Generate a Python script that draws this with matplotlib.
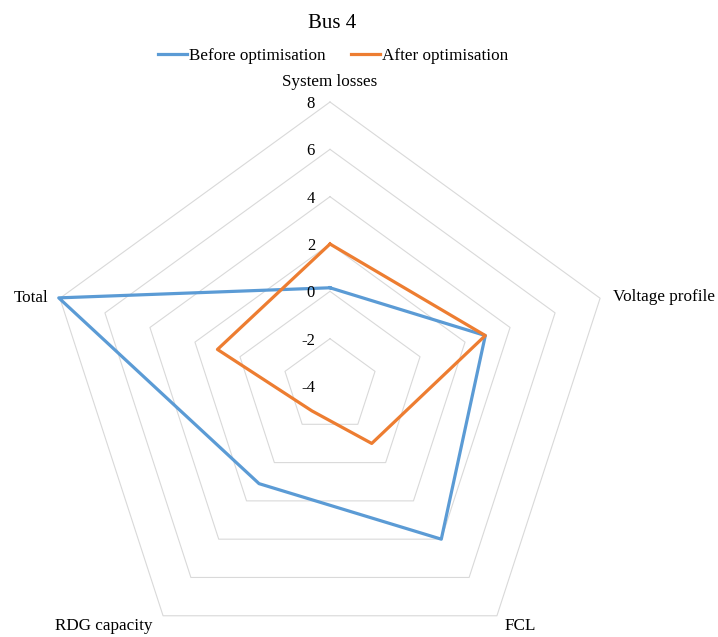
import numpy as np
import matplotlib.pyplot as plt

# Datos
categorias = ['System losses', 'Voltage profile', 'FCL', 'RDG capacity', 'Total']
antes = [0.15, 2.9, 4.0, 1.1, 8.05]
despues = [2.0, 2.9, -1.0, -2.7, 1.0]
niveles = [8, 6, 4, 2, 0, -2]
etiquetas_r = ['8', '6', '4', '2', '0', '-2', '-4']
valores_r = [8, 6, 4, 2, 0, -2, -4]

AZUL = '#5B9BD5'
NARANJA = '#ED7D31'
GRIS = '#D9D9D9'

plt.rcParams['font.family'] = ['Liberation Serif', 'DejaVu Serif']

fig = plt.figure(figsize=(7.18, 6.37), dpi=100)
W, H = 718, 637
cx, cy, rad = 330, 386, 284
ax = fig.add_axes([(cx - rad) / W, (H - cy - rad) / H, 2 * rad / W, 2 * rad / H],
                  projection='polar')
ax.set_theta_offset(np.pi / 2)
ax.set_theta_direction(-1)
ax.set_ylim(-4, 8)
ax.grid(False)
ax.spines['polar'].set_visible(False)
ax.set_xticks([])
ax.set_yticks([])
ax.patch.set_visible(False)

n = len(categorias)
ang = np.linspace(0, 2 * np.pi, n, endpoint=False)
ang_c = np.append(ang, ang[0])

for nv in niveles:
    ax.plot(ang_c, [nv] * (n + 1), color=GRIS, lw=0.8, clip_on=False, zorder=1)

ax.plot(ang_c, antes + antes[:1], color=AZUL, lw=2.3, clip_on=False, zorder=3,
        label='Before optimisation', solid_joinstyle='round')
ax.plot(ang_c, despues + despues[:1], color=NARANJA, lw=2.3, clip_on=False, zorder=3,
        label='After optimisation', solid_joinstyle='round')

for v, t in zip(valores_r, etiquetas_r):
    ax.annotate(t, xy=(0, v), xytext=(-15, -2), textcoords='offset pixels',
                ha='right', va='center', fontsize=12, color='#000000')

# posiciones de las etiquetas de categoria
desp = [(0, 20, 'center', 'center'), (13, 1, 'left', 'center'),
        (23, -10, 'center', 'center'), (-11, -10, 'right', 'center'),
        (-11, 0, 'right', 'center')]
for a, c, (dx, dy, ha, va) in zip(ang, categorias, desp):
    ax.annotate(c, xy=(a, 8), xytext=(dx, dy), textcoords='offset pixels',
                ha=ha, va=va, fontsize=12.3, annotation_clip=False)

fig.text(332 / W, 1 - 23 / H, 'Bus 4', ha='center', va='center', fontsize=15)
fig.legend(loc='center', bbox_to_anchor=(333 / W, 1 - 56 / H), ncol=2, frameon=False,
           fontsize=12.3, handlelength=1.75, handletextpad=0.1, columnspacing=1.45)

fig.savefig('out.png', dpi=100)
